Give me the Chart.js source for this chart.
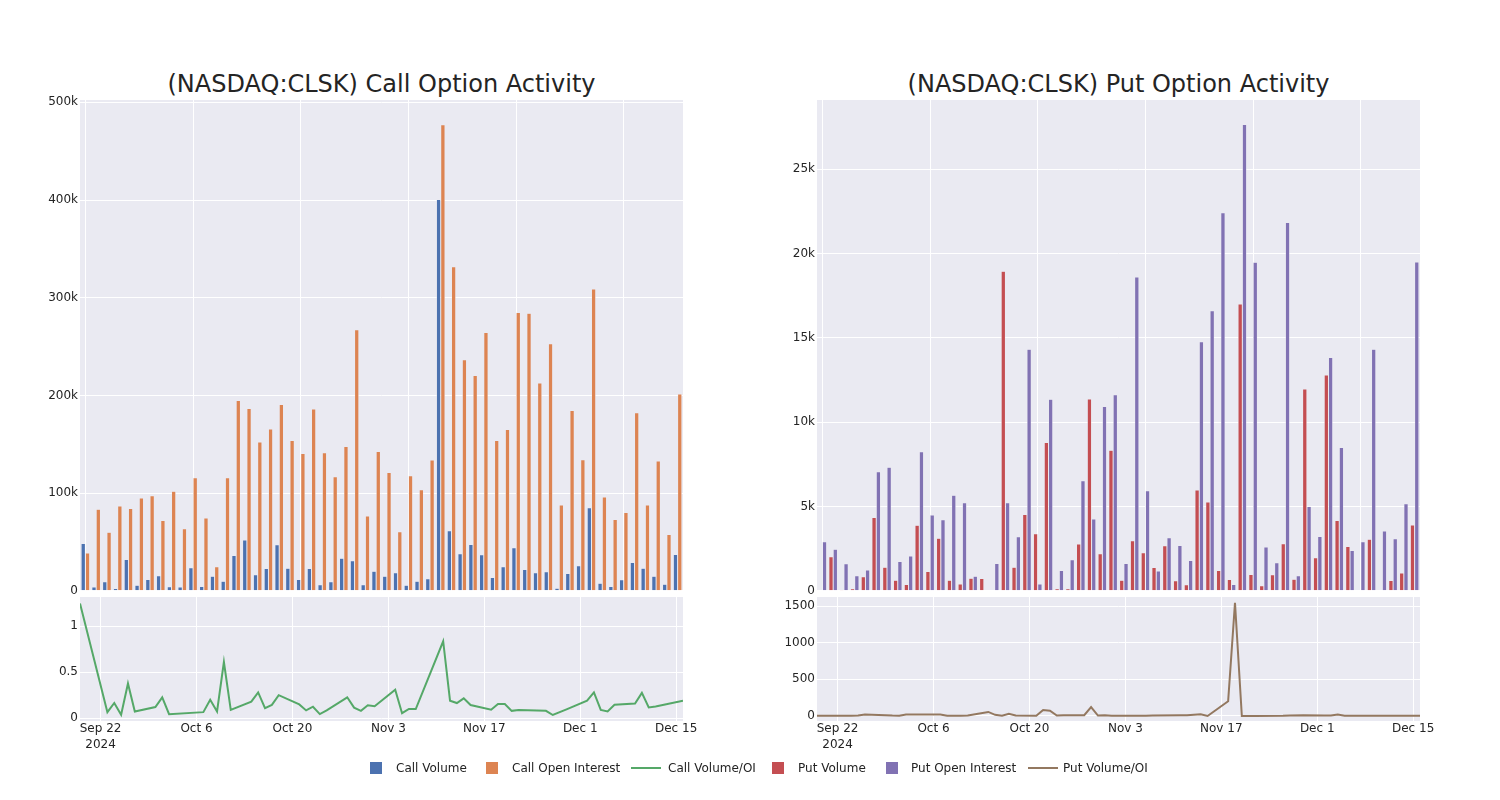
<!DOCTYPE html>
<html>
<head>
<meta charset="utf-8">
<title>CLSK Option Activity</title>
<script src="https://cdn.jsdelivr.net/npm/chart.js@4.4.1/dist/chart.umd.min.js"></script>
<style>
  body { margin: 0; background: #fff; font-family: "DejaVu Sans", sans-serif; color: #242424; }
  #page { position: relative; width: 1500px; height: 800px; }
  canvas { position: absolute; }
  .title { position: absolute; top: 70px; height: 28px; line-height: 28px; font-size: 24px; text-align: center; white-space: nowrap; }
  .lg { position: absolute; top: 760px; height: 16px; line-height: 16px; font-size: 12px; white-space: nowrap; }
  .sw { position: absolute; width: 12px; height: 12px; top: 2px; }
  .ln { position: absolute; width: 30px; height: 2px; top: 7px; }
</style>
</head>
<body>
<div id="page">
  <div class="title" style="left:80px;width:603px;">(NASDAQ:CLSK) Call Option Activity</div>
  <div class="title" style="left:817px;width:603px;">(NASDAQ:CLSK) Put Option Activity</div>
  <canvas id="callBars" width="680" height="510" style="left:20px;top:90px;"></canvas>
  <canvas id="callLine" width="680" height="173" style="left:20px;top:587px;"></canvas>
  <canvas id="putBars" width="680" height="510" style="left:757px;top:90px;"></canvas>
  <canvas id="putLine" width="680" height="173" style="left:757px;top:587px;"></canvas>
  <div id="legend"></div>
</div>
<script>
// trading days shown (a few days are missing in the source data)
const dates = [
  '2024-09-19','2024-09-23','2024-09-24','2024-09-25','2024-09-26','2024-09-27','2024-09-30',
  '2024-10-01','2024-10-02','2024-10-07','2024-10-08','2024-10-09','2024-10-10','2024-10-11',
  '2024-10-14','2024-10-15','2024-10-16','2024-10-17','2024-10-18','2024-10-21','2024-10-22',
  '2024-10-23','2024-10-24','2024-10-25','2024-10-28','2024-10-29','2024-10-30','2024-10-31',
  '2024-11-01','2024-11-04','2024-11-05','2024-11-06','2024-11-07','2024-11-11','2024-11-12',
  '2024-11-13','2024-11-14','2024-11-15','2024-11-18','2024-11-19','2024-11-20','2024-11-21',
  '2024-11-22','2024-11-26','2024-11-27','2024-11-29','2024-12-02','2024-12-03','2024-12-04',
  '2024-12-05','2024-12-06','2024-12-09','2024-12-10','2024-12-11','2024-12-12','2024-12-16'
];

// values in thousands of contracts
const callVolume = [
  48.5, 4, 9.2, 2.4, 32, 5.8, 11.6, 15.4, 4.1, 3.8, 23.5, 4.4, 15, 9.9,
  36.2, 51.9, 16.4, 22.9, 47.1, 23.2, 11.6, 22.9, 6.1, 9.2, 33.4, 30.7, 6.1, 20.1,
  15, 18.4, 5.8, 9.9, 12.3, 400.5, 61.4, 37.9, 47.4, 36.9, 13.7, 24.6, 44, 21.8,
  18.4, 19.5, 2.7, 17.7, 25.6, 85, 7.8, 4.4, 11.3, 29, 23.2, 15, 6.8, 37.2
];
const callOI = [
  38.6, 83.6, 60, 86.7, 84.3, 94.9, 97.3, 72, 102, 63.5, 115.7, 74.4, 24.6, 115.7,
  194.9, 186.7, 152.2, 165.5, 190.8, 153.9, 140.6, 186, 141.3, 116.7, 147.8, 267.2, 76.5, 142.7,
  121.2, 60.4, 117.7, 103.4, 133.8, 477, 331.7, 236.5, 220.5, 264.5, 153.9, 165.2, 285, 284,
  212.6, 252.9, 87.7, 184.6, 134.1, 308.9, 95.9, 73, 80.2, 182.3, 87.7, 132.8, 57.7, 201.4
];
const callRatio = [
  1.245, 0.066, 0.165, 0.037, 0.377, 0.073, 0.121, 0.227, 0.044, 0.066, 0.2, 0.073, 0.61, 0.09,
  0.18, 0.28, 0.11, 0.145, 0.25, 0.15, 0.085, 0.125, 0.045, 0.085, 0.227, 0.115, 0.08, 0.14,
  0.13, 0.31, 0.055, 0.1, 0.1, 0.835, 0.19, 0.165, 0.216, 0.143, 0.092, 0.154, 0.154, 0.08,
  0.088, 0.08, 0.035, 0.096, 0.19, 0.28, 0.09, 0.073, 0.147, 0.16, 0.275, 0.117, 0.128, 0.19
];
const putVolume = [
  0.04, 2.02, 0.06, 0.12, 0.83, 4.35, 1.4, 0.63, 0.38, 3.88, 1.15, 3.12, 0.63, 0.4,
  0.75, 0.73, 0.04, 18.95, 1.4, 4.53, 3.38, 8.8, 0.12, 0.12, 2.77, 11.37, 2.2, 8.33,
  0.63, 2.97, 2.25, 1.38, 2.67, 0.59, 0.36, 5.97, 5.26, 1.21, 0.67, 17.01, 0.97, 0.3,
  0.95, 2.79, 0.69, 11.97, 1.96, 12.8, 4.17, 2.63, 0.04, 3.05, 0.04, 0.61, 1.05, 3.9
];
const putOI = [
  2.91, 2.47, 1.6, 0.89, 1.23, 7.06, 7.32, 1.74, 2.06, 8.25, 4.49, 4.21, 5.66, 5.22,
  0.87, 0.04, 1.62, 5.22, 3.2, 14.32, 0.4, 11.35, 1.21, 1.84, 6.53, 4.25, 10.92, 11.63,
  1.62, 18.61, 5.93, 1.17, 3.14, 2.69, 1.8, 14.77, 16.61, 22.41, 0.38, 27.65, 19.48, 2.59,
  1.66, 21.84, 0.89, 5, 3.22, 13.83, 8.49, 2.39, 2.91, 14.32, 3.54, 3.09, 5.16, 19.5
];
const putRatio = [
  2, 2, 2, 5, 20, 18, 5, 3, 20, 20, 3, 3, 3, 5,
  55, 15, 3, 30, 5, 3, 82, 72, 5, 8, 10, 120, 5, 8,
  3, 3, 3, 3, 5, 8, 10, 15, 22, 0, 200, 1546, 0, 0,
  0, 2, 5, 8, 5, 5, 18, 3, 3, 2, 2, 2, 2, 2
];

const callBarTicks = [0, 100, 200, 300, 400, 500];
const putBarTicks = [0, 5, 10, 15, 20, 25];
const callLineTicks = [0, 0.5, 1];
const putLineTicks = [0, 500, 1000, 1500];
const dateTicks = ['2024-09-22','2024-10-06','2024-10-20','2024-11-03','2024-11-17','2024-12-01','2024-12-15'];
const dateTickLabels = [['Sep 22', '2024'], 'Oct 6', 'Oct 20', 'Nov 3', 'Nov 17', 'Dec 1', 'Dec 15'];

const colors = {
  callVolume: '#4C72B0', callOI: '#DD8452', callRatio: '#55A868',
  putVolume: '#C44E52', putOI: '#8172B3', putRatio: '#937860'
};
const plotColor = '#EAEAF2';
const textColor = '#242424';
const font = { family: 'DejaVu Sans', size: 12 };

const day0 = Date.parse(dates[0]);
const dayOffset = d => (Date.parse(d) - day0) / 864e5;

const plotBg = {
  id: 'plotBg',
  beforeDraw(chart) {
    const { ctx, chartArea: a } = chart;
    ctx.save();
    ctx.fillStyle = plotColor;
    ctx.fillRect(a.left, a.top, a.right - a.left, a.bottom - a.top);
    ctx.restore();
  }
};

function yAxis(max, min, ticks, fmt) {
  return {
    min, max,
    afterBuildTicks: s => { s.ticks = ticks.map(v => ({ value: v })); },
    afterFit: s => { s.width = 60; },
    ticks: { callback: fmt, padding: 2, color: textColor, font },
    grid: { color: '#fff', drawTicks: false },
    border: { display: false }
  };
}

function barChart(id, labels, sets, yMax, ticks) {
  new Chart(document.getElementById(id), {
    type: 'bar',
    data: {
      labels,
      datasets: sets.map(s => ({
        label: s.label, data: s.data, backgroundColor: s.color,
        borderColor: plotColor, borderWidth: 0.5,
        categoryPercentage: 0.8, barPercentage: 1
      }))
    },
    options: {
      responsive: false, animation: false,
      layout: { padding: { top: 10, right: 17, bottom: 8, left: 0 } },
      plugins: { legend: { display: false }, tooltip: { enabled: false } },
      scales: {
        x: {
          ticks: { display: false },
          grid: { offset: false, drawTicks: false, color: c => c.index % 10 === 0 ? '#fff' : 'rgba(0,0,0,0)' },
          border: { display: false },
          afterFit: s => { s.height = 0; }
        },
        y: yAxis(yMax, 0, ticks, v => v === 0 ? '0' : v + 'k')
      }
    },
    plugins: [plotBg]
  });
}

function lineChart(id, label, values, color, yMin, yMax, ticks) {
  new Chart(document.getElementById(id), {
    type: 'line',
    data: {
      datasets: [{
        label, borderColor: color, borderWidth: 2, pointRadius: 0, tension: 0,
        data: dates.map((d, i) => ({ x: dayOffset(d), y: values[i] }))
      }]
    },
    options: {
      responsive: false, animation: false,
      layout: { padding: { top: 10, right: 17, bottom: 0, left: 0 } },
      plugins: { legend: { display: false }, tooltip: { enabled: false } },
      scales: {
        x: {
          type: 'linear', min: 0, max: dayOffset(dates[dates.length - 1]),
          afterBuildTicks: s => { s.ticks = dateTicks.map(d => ({ value: dayOffset(d) })); },
          afterFit: s => { s.height = 39; },
          ticks: { callback: (v, i) => dateTickLabels[i], maxRotation: 0, autoSkip: false, padding: 0, color: textColor, font: { ...font, lineHeight: 1.35 } },
          grid: { color: '#fff', drawTicks: false },
          border: { display: false }
        },
        y: yAxis(yMax, yMin, ticks, v => String(v))
      }
    },
    plugins: [plotBg]
  });
}

barChart('callBars', dates, [
  { label: 'Call Volume', data: callVolume, color: colors.callVolume },
  { label: 'Call Open Interest', data: callOI, color: colors.callOI }
], 502.4, callBarTicks);
lineChart('callLine', 'Call Volume/OI', callRatio, colors.callRatio, -0.03, 1.315, callLineTicks);

barChart('putBars', dates, [
  { label: 'Put Volume', data: putVolume, color: colors.putVolume },
  { label: 'Put Open Interest', data: putOI, color: colors.putOI }
], 29.1, putBarTicks);
lineChart('putLine', 'Put Volume/OI', putRatio, colors.putRatio, -69, 1625, putLineTicks);

// legend below both panels
const legendItems = [
  { text: 'Call Volume', color: colors.callVolume, kind: 'sw', x: 370, tx: 396 },
  { text: 'Call Open Interest', color: colors.callOI, kind: 'sw', x: 486, tx: 512 },
  { text: 'Call Volume/OI', color: colors.callRatio, kind: 'ln', x: 631, tx: 668 },
  { text: 'Put Volume', color: colors.putVolume, kind: 'sw', x: 772, tx: 798 },
  { text: 'Put Open Interest', color: colors.putOI, kind: 'sw', x: 886, tx: 911 },
  { text: 'Put Volume/OI', color: colors.putRatio, kind: 'ln', x: 1028, tx: 1063 }
];
const legend = document.getElementById('legend');
legendItems.forEach(it => {
  const mark = document.createElement('div');
  mark.className = 'lg';
  mark.style.left = it.x + 'px';
  mark.innerHTML = '<div class="' + it.kind + '" style="background:' + it.color + '"></div>';
  legend.appendChild(mark);
  const txt = document.createElement('div');
  txt.className = 'lg';
  txt.style.left = it.tx + 'px';
  txt.textContent = it.text;
  legend.appendChild(txt);
});
</script>
</body>
</html>
